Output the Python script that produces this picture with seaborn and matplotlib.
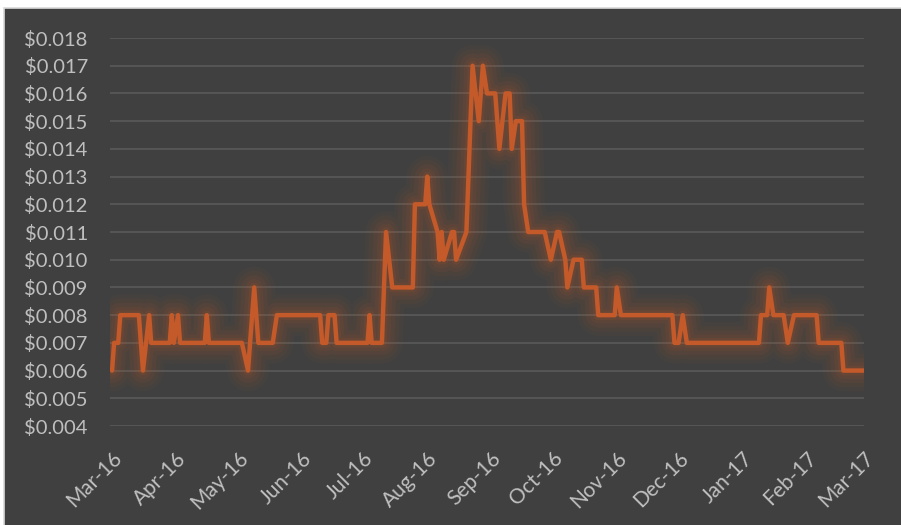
import pandas as pd
import seaborn as sns
import matplotlib.pyplot as plt
import matplotlib.dates as mdates
from matplotlib.patches import Rectangle
from matplotlib.ticker import FuncFormatter, MultipleLocator

# price points (vertices of the line)
dates = [
    "2016-03-01", "2016-03-02", "2016-03-04", "2016-03-05", "2016-03-14", "2016-03-16",
    "2016-03-19", "2016-03-20", "2016-03-29", "2016-03-30", "2016-03-31", "2016-04-02",
    "2016-04-03", "2016-04-15", "2016-04-16", "2016-04-17", "2016-05-03", "2016-05-06",
    "2016-05-09", "2016-05-11", "2016-05-18", "2016-05-20", "2016-06-10", "2016-06-11",
    "2016-06-13", "2016-06-14", "2016-06-17", "2016-06-18", "2016-07-03", "2016-07-04",
    "2016-07-05", "2016-07-10", "2016-07-12", "2016-07-15", "2016-07-25", "2016-07-26",
    "2016-07-31", "2016-08-01", "2016-08-02", "2016-08-06", "2016-08-07", "2016-08-08",
    "2016-08-09", "2016-08-13", "2016-08-14", "2016-08-15", "2016-08-20", "2016-08-23",
    "2016-08-26", "2016-08-28", "2016-08-30", "2016-09-03", "2016-09-04", "2016-09-05",
    "2016-09-08", "2016-09-10", "2016-09-11", "2016-09-13", "2016-09-16", "2016-09-17",
    "2016-09-19", "2016-09-27", "2016-09-30", "2016-10-03", "2016-10-04", "2016-10-07",
    "2016-10-08", "2016-10-11", "2016-10-15", "2016-10-16", "2016-10-22", "2016-10-23",
    "2016-10-31", "2016-11-01", "2016-11-03", "2016-11-28", "2016-11-29", "2016-12-01",
    "2016-12-03", "2016-12-05", "2017-01-09", "2017-01-10", "2017-01-13", "2017-01-14",
    "2017-01-16", "2017-01-21", "2017-01-23", "2017-01-26", "2017-02-06", "2017-02-07",
    "2017-02-18", "2017-02-19", "2017-03-01",
]
prices = [
    0.006, 0.007, 0.007, 0.008, 0.008, 0.006,
    0.008, 0.007, 0.007, 0.008, 0.007, 0.008,
    0.007, 0.007, 0.008, 0.007, 0.007, 0.006,
    0.009, 0.007, 0.007, 0.008, 0.008, 0.007,
    0.007, 0.008, 0.008, 0.007, 0.007, 0.008,
    0.007, 0.007, 0.011, 0.009, 0.009, 0.012,
    0.012, 0.013, 0.012, 0.011, 0.010, 0.011,
    0.010, 0.011, 0.011, 0.010, 0.011, 0.017,
    0.015, 0.017, 0.016, 0.016, 0.015, 0.014,
    0.016, 0.016, 0.014, 0.015, 0.015, 0.012,
    0.011, 0.011, 0.010, 0.011, 0.011, 0.010,
    0.009, 0.010, 0.010, 0.009, 0.009, 0.008,
    0.008, 0.009, 0.008, 0.008, 0.007, 0.007,
    0.008, 0.007, 0.007, 0.008, 0.008, 0.009,
    0.008, 0.008, 0.007, 0.008, 0.008, 0.007,
    0.007, 0.006, 0.006,
]
month_ticks = pd.date_range("2016-03-01", "2017-03-01", freq="MS")

df = pd.DataFrame({"date": pd.to_datetime(dates), "price": prices})

sns.set_theme(style="dark")
plt.rcParams['font.family'] = ['Lato', 'DejaVu Sans']

bg = "#404040"
line_c = "#C4592A"
txt_c = "#BFBFBF"

fig = plt.figure(figsize=(9.01, 5.25), dpi=100, facecolor="white")
fig.patches.append(Rectangle((4 / 901, -0.01), 1.0, 1 - 8 / 525 + 0.01,
                             transform=fig.transFigure, facecolor=bg,
                             edgecolor="#d9d9d9", linewidth=1.2, zorder=-10))
ax = fig.add_axes([110 / 901, 1 - 426 / 525, (864 - 110) / 901, (426 - 38) / 525])
ax.set_facecolor(bg)

# soft glow under the line
for w, a in [(30, 0.05), (24, 0.06), (18, 0.08), (12, 0.1), (7, 0.14)]:
    sns.lineplot(data=df, x="date", y="price", ax=ax, color="#B5562C",
                 linewidth=w, alpha=a, solid_joinstyle="round", solid_capstyle="round")
sns.lineplot(data=df, x="date", y="price", ax=ax, color=line_c, linewidth=3.2,
             solid_joinstyle="round")

ax.set_xlim(pd.Timestamp("2016-03-01") - pd.Timedelta(days=1), pd.Timestamp("2017-03-01"))
ax.set_ylim(0.004, 0.018)
ax.yaxis.set_major_locator(MultipleLocator(0.001))
ax.yaxis.set_major_formatter(FuncFormatter(lambda v, p: f"${v:.3f}"))
ax.set_xticks(month_ticks)
ax.xaxis.set_major_formatter(mdates.DateFormatter("%b-%y"))

ax.grid(axis="y", color="#5A5A5A", linewidth=1.2)
ax.grid(axis="x", visible=False)
for s in ax.spines.values():
    s.set_visible(False)
ax.tick_params(axis="y", length=0, pad=16, labelsize=14.5, labelcolor=txt_c)
ax.tick_params(axis="x", length=0, pad=16, labelsize=15, labelcolor=txt_c)
for lab in ax.get_xticklabels():
    lab.set_rotation(45)
    lab.set_ha("right")
    lab.set_rotation_mode("anchor")
ax.set_xlabel("")
ax.set_ylabel("")

fig.savefig("out.png", dpi=100, facecolor=fig.get_facecolor())
